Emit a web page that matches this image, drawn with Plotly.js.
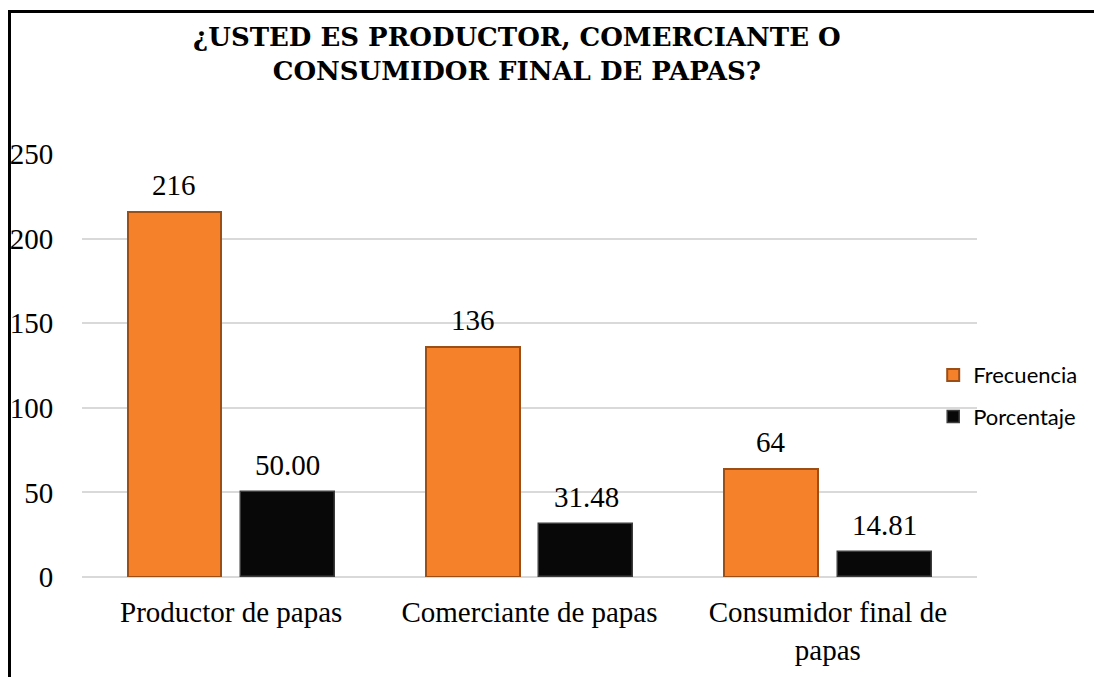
<!DOCTYPE html>
<html><head><meta charset="utf-8">
<script src="https://cdn.plot.ly/plotly-3.0.1.min.js"></script>
<style>
html,body{margin:0;padding:0;background:#fff;overflow:hidden}
#frame{position:absolute;left:8px;top:10px;width:1200px;height:800px;border-left:3px solid #000;border-top:3px solid #000;box-sizing:border-box;}
#chart{position:absolute;left:0;top:0;width:1094px;height:677px}
</style></head><body>
<div id="frame"></div>
<div id="chart"></div>
<script>
// ---- data ----
const categories = ["Productor de papas", "Comerciante de papas", "Consumidor final de<br>papas"];
const frecuencia = [216, 136, 64];
const porcentaje = [50.00, 31.48, 14.81];
const seriesNames = ["Frecuencia", "Porcentaje"];
const yTicks = [0, 50, 100, 150, 200, 250];
const chartTitle = "¿USTED ES PRODUCTOR, COMERCIANTE O<br>CONSUMIDOR FINAL DE PAPAS?";

// ---- styling ----
const serif = "Liberation Serif";
const idx = categories.map((c, i) => i);
const off = 0.19, bw = 0.315;
const xF = idx.map(i => i - off);
const xP = idx.map(i => i + off);

const traces = [
  {
    type: 'bar', name: seriesNames[0], x: xF, y: frecuencia, width: bw,
    legendgroup: 'a',
    marker: {color: '#F5822A', line: {color: '#9C4E17', width: 2}},
    hoverinfo: 'y'
  },
  {
    type: 'bar', name: seriesNames[1], x: xP, y: porcentaje, width: bw,
    legendgroup: 'b',
    marker: {color: '#080808', line: {color: '#3c3c3c', width: 1.5}},
    hoverinfo: 'y'
  }
];

const labelFont = {family: serif, size: 29, color: '#000'};
const annotations = [{
  text: chartTitle, xref: 'paper', yref: 'paper', x: 0.4855, y: 1.236,
  xanchor: 'center', yanchor: 'middle', showarrow: false,
  font: {family: "DejaVu Serif, Liberation Serif, serif", size: 26, color: '#000', weight: 'bold'}
}];
frecuencia.forEach((v, i) => annotations.push({
  x: xF[i], y: v, xref: 'x', yref: 'y', text: String(v), showarrow: false,
  yanchor: 'bottom', yshift: 9, font: labelFont
}));
porcentaje.forEach((v, i) => annotations.push({
  x: xP[i], y: v, xref: 'x', yref: 'y', text: v.toFixed(2), showarrow: false,
  yanchor: 'bottom', yshift: 9, font: labelFont
}));

const layout = {
  width: 1094, height: 677,
  font: {family: serif, color: '#000', size: 29},
  paper_bgcolor: 'rgba(0,0,0,0)', plot_bgcolor: 'rgba(0,0,0,0)',
  margin: {l: 82, r: 116, t: 154, b: 100},
  xaxis: {
    range: [-0.5, 2.5], tickvals: idx, ticktext: categories,
    showgrid: false, zeroline: false, showline: false,
    ticks: 'outside', ticklen: 9, tickcolor: 'rgba(0,0,0,0)',
    tickfont: {family: serif, size: 29, color: '#000'}
  },
  yaxis: {
    range: [0, 250], tickvals: yTicks,
    showgrid: true, gridcolor: '#D9D9D9', gridwidth: 2,
    zeroline: true, zerolinecolor: '#D9D9D9', zerolinewidth: 2,
    showline: false,
    ticks: 'outside', ticklen: 22, tickcolor: 'rgba(0,0,0,0)',
    tickfont: {family: serif, size: 29, color: '#000'}
  },
  showlegend: true,
  legend: {
    x: 0.95, xanchor: 'left', y: 0.527, yanchor: 'top',
    traceorder: 'grouped', tracegroupgap: 10,
    bgcolor: 'rgba(0,0,0,0)',
    font: {family: 'Lato', size: 22, color: '#000'}
  },
  annotations: annotations,
  bargap: 0
};

Plotly.newPlot('chart', traces, layout, {displayModeBar: false, responsive: false});
</script>
</body></html>
